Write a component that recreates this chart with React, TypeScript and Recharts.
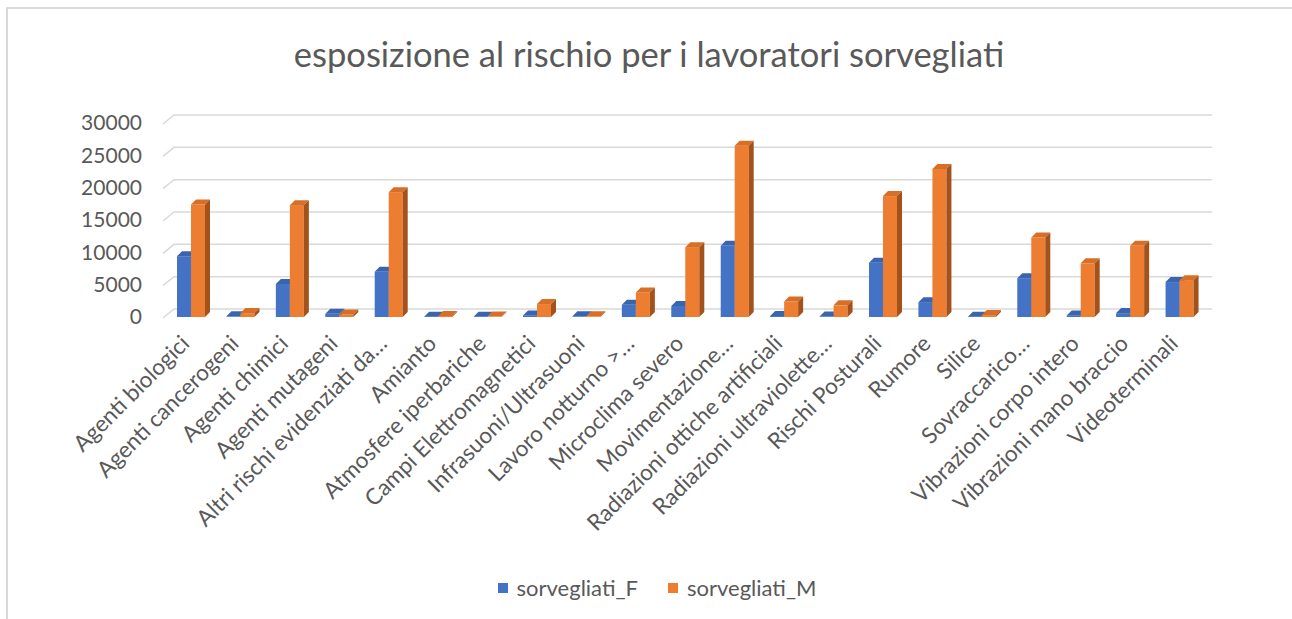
import React from "react";
import { BarChart, Bar, XAxis, YAxis, CartesianGrid } from "recharts";

// categorie di rischio (etichette come appaiono nel grafico)
const categorie = [
  "Agenti biologici",
  "Agenti cancerogeni",
  "Agenti chimici",
  "Agenti mutageni",
  "Altri rischi evidenziati da…",
  "Amianto",
  "Atmosfere iperbariche",
  "Campi Elettromagnetici",
  "Infrasuoni/Ultrasuoni",
  "Lavoro notturno >…",
  "Microclima severo",
  "Movimentazione…",
  "Radiazioni ottiche artificiali",
  "Radiazioni ultraviolette…",
  "Rischi Posturali",
  "Rumore",
  "Silice",
  "Sovraccarico…",
  "Vibrazioni corpo intero",
  "Vibrazioni mano braccio",
  "Videoterminali",
];

const sorvegliatiF = [
  9400, 100, 5100, 500, 7000, 50, 30, 250, 100, 1900, 1700, 11000, 150, 80,
  8400, 2300, 40, 6000, 250, 600, 5400,
];

const sorvegliatiM = [
  17400, 600, 17300, 400, 19300, 150, 60, 2000, 100, 3800, 10800, 26500, 2400,
  1800, 18700, 22900, 300, 12300, 8300, 11000, 5700,
];

const yTicks = [0, 5000, 10000, 15000, 20000, 25000, 30000];

const data = categorie.map((c, i) => ({
  categoria: c,
  sorvegliati_F: sorvegliatiF[i],
  sorvegliati_M: sorvegliatiM[i],
}));

const FONT = "Lato, 'Liberation Sans', sans-serif";
const TXT = "#595959";

// barra con un finto effetto 3D (faccia superiore + lato)
const Bar3D = (props: any) => {
  const { x, y, width, height, fill, side, top } = props;
  const d = 5;
  const h = Math.max(height, 0);
  return (
    <g>
      <rect x={x} y={y} width={width} height={h} fill={fill} />
      <polygon
        points={`${x},${y} ${x + width},${y} ${x + width + d},${y - d} ${x + d},${y - d}`}
        fill={top}
      />
      <polygon
        points={`${x + width},${y} ${x + width + d},${y - d} ${x + width + d},${y + h - d} ${x + width},${y + h}`}
        fill={side}
      />
    </g>
  );
};

const GridLine = (props: any) => {
  const { x1, y1, x2 } = props;
  return (
    <path
      key={props.key}
      d={`M${x1 - 3},${y1 + 1} L${x1 + 8},${y1 - 8} L${x2 + 8},${y1 - 8}`}
      stroke="#D9D9D9"
      strokeWidth={1.5}
      fill="none"
    />
  );
};

const XTick = (props: any) => {
  const { x, y, payload } = props;
  return (
    <g transform={`translate(${x},${y + 20})`}>
      <text
        textAnchor="end"
        transform="rotate(-45)"
        fill={TXT}
        fontSize={22.5}
        fontFamily={FONT}
      >
        {payload.value}
      </text>
    </g>
  );
};

const App: React.FC = () => {
  return (
    <div
      style={{
        position: "absolute",
        left: 0,
        top: 0,
        width: 1292,
        height: 619,
        background: "#fff",
        overflow: "hidden",
      }}
    >
      <div
        style={{
          position: "absolute",
          left: 6,
          top: 7,
          width: 1300,
          height: 620,
          borderTop: "2px solid #D9D9D9",
          borderLeft: "2px solid #D9D9D9",
        }}
      />
      <div
        style={{
          position: "absolute",
          left: 0,
          width: 1298,
          top: 33,
          textAlign: "center",
          fontFamily: FONT,
          fontSize: 34.5,
          color: TXT,
        }}
      >
        esposizione al rischio per i lavoratori sorvegliati
      </div>
      <div style={{ position: "absolute", left: 0, top: 0 }}>
        <BarChart
          width={1292}
          height={619}
          data={data}
          margin={{ top: 123, right: 88, bottom: 102, left: 86 }}
          barGap={0}
          barSize={14}
        >
          <CartesianGrid vertical={false} horizontal={GridLine} />
          <XAxis
            dataKey="categoria"
            interval={0}
            tickLine={false}
            axisLine={false}
            height={200}
            tick={<XTick />}
          />
          <YAxis
            width={80}
            domain={[0, 30000]}
            ticks={yTicks}
            axisLine={false}
            tickLine={false}
            tickMargin={18}
            tick={{ fill: TXT, fontSize: 21, fontFamily: FONT }}
          />
          <Bar
            dataKey="sorvegliati_F"
            fill="#4472C4"
            isAnimationActive={false}
            shape={(p: any) => <Bar3D {...p} top="#3A64AE" side="#2F5597" />}
          />
          <Bar
            dataKey="sorvegliati_M"
            fill="#ED7D31"
            isAnimationActive={false}
            shape={(p: any) => <Bar3D {...p} top="#D96E26" side="#A3521C" />}
          />
        </BarChart>
      </div>
      <div
        style={{
          position: "absolute",
          top: 574,
          left: 0,
          width: 1314,
          display: "flex",
          justifyContent: "center",
          fontFamily: FONT,
          fontSize: 22,
          color: TXT,
          gap: 30,
        }}
      >
        <div style={{ display: "flex", alignItems: "center" }}>
          <span style={{ width: 10, height: 10, background: "#4472C4", marginRight: 9 }} />
          sorvegliati_F
        </div>
        <div style={{ display: "flex", alignItems: "center" }}>
          <span style={{ width: 10, height: 10, background: "#ED7D31", marginRight: 9 }} />
          sorvegliati_M
        </div>
      </div>
    </div>
  );
};

export default App;
